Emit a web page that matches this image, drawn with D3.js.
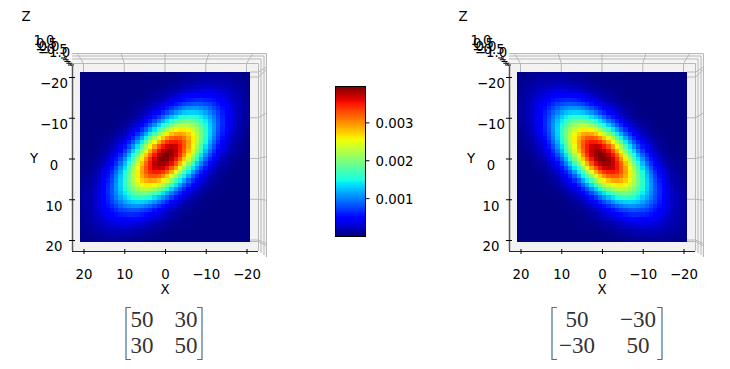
<!DOCTYPE html>
<html>
<head>
<meta charset="utf-8">
<script src="https://cdn.jsdelivr.net/npm/d3@7"></script>
<style>
  html, body { margin: 0; padding: 0; background: #fff; }
  svg { display: block; }
  text { font-family: "DejaVu Sans", sans-serif; font-size: 13.3px; fill: #000; }
  .mat { font-family: "Liberation Serif", serif; font-size: 23px; fill: #333; text-anchor: middle; dominant-baseline: central; }
</style>
</head>
<body>
<svg id="chart" width="730" height="369"></svg>
<script>
// density, in units of 1e-5, top half of the image
// (the lower half is the same picture turned by 180 degrees)
const densityTop = [
  [0,0,0,0,0,0,0,0,0,0,0,0,0,0,0,0,0,0,1,1,1,2,2,3,4,5,6,7,8,8,9,9,9,8,8,7,6,5,4,3],
  [0,0,0,0,0,0,0,0,0,0,0,0,0,0,0,0,0,1,1,1,2,3,4,5,7,8,9,11,12,13,13,13,13,12,11,10,8,7,6,4],
  [0,0,0,0,0,0,0,0,0,0,0,0,0,0,0,1,1,1,2,3,4,5,7,9,11,13,15,16,18,18,19,18,17,16,15,13,11,9,7,5],
  [0,0,0,0,0,0,0,0,0,0,0,0,0,0,1,1,2,2,3,5,6,9,11,14,17,19,22,24,25,26,26,25,24,21,19,16,13,11,8,6],
  [0,0,0,0,0,0,0,0,0,0,0,0,0,1,1,2,3,4,6,8,11,14,17,21,25,29,32,34,36,36,35,33,31,27,24,20,16,13,10,7],
  [0,0,0,0,0,0,0,0,0,0,0,0,1,2,2,3,5,7,9,13,17,22,27,32,37,42,45,48,49,48,46,43,39,34,29,24,19,15,11,8],
  [0,0,0,0,0,0,0,0,0,0,0,1,2,3,3,5,8,11,15,20,26,33,40,46,53,58,62,64,64,62,59,54,48,41,34,27,21,16,12,8],
  [0,0,0,0,0,0,0,0,0,0,1,2,3,4,6,9,12,18,23,31,39,48,56,65,73,78,82,83,82,78,73,65,56,48,39,31,24,17,13,9],
  [0,0,0,0,0,0,0,0,0,1,2,3,4,6,10,14,20,26,35,45,56,67,79,89,97,103,106,106,102,96,87,76,65,54,43,33,25,18,13,9],
  [0,0,0,0,0,0,0,0,1,2,3,4,7,10,15,21,29,39,51,64,78,92,106,117,126,131,132,129,123,113,100,87,73,59,46,35,26,19,13,9],
  [0,0,0,0,0,0,0,1,2,3,4,7,11,16,23,31,43,57,72,89,106,123,138,150,158,161,160,154,143,129,113,96,78,62,48,36,26,18,13,8],
  [0,0,0,0,0,0,1,2,3,4,7,11,16,24,33,46,61,79,98,119,139,158,174,186,192,193,188,177,161,143,123,102,82,64,49,36,25,18,12,8],
  [0,0,0,0,0,1,2,3,4,7,11,16,24,34,47,64,84,105,130,154,177,197,213,223,227,223,213,197,177,154,129,106,83,64,48,34,24,16,11,7],
  [0,0,0,0,1,2,3,4,6,10,16,24,34,48,66,87,111,138,166,193,218,238,253,260,260,251,235,213,188,160,132,106,82,62,45,32,22,15,9,6],
  [0,0,0,1,1,2,3,6,10,15,23,33,47,66,88,114,143,174,205,235,260,280,291,294,288,273,251,223,193,161,131,103,78,58,42,29,19,13,8,5],
  [0,0,1,1,2,3,5,9,14,21,31,46,64,87,114,145,178,213,247,277,301,318,325,322,309,288,260,227,192,158,126,97,73,53,37,25,17,11,7,4],
  [0,0,1,2,3,5,8,12,20,29,43,61,84,111,143,178,216,253,287,317,339,350,351,342,322,294,260,223,186,150,117,89,65,46,32,21,14,9,5,3],
  [0,1,1,2,4,7,11,18,26,39,57,79,105,138,174,213,253,291,325,352,369,374,368,351,325,291,253,213,174,138,106,79,56,40,27,17,11,7,4,2],
  [1,1,2,3,6,9,15,23,35,51,72,98,130,166,205,247,287,325,356,378,388,387,374,350,318,280,238,197,158,123,92,67,48,33,22,14,9,5,3,2],
  [1,1,3,5,8,13,20,31,45,64,89,119,154,193,235,277,317,352,378,393,397,388,369,339,301,260,218,177,139,106,78,56,39,26,17,11,6,4,2,1]
];
const xTicks = [20, 10, 0, -10, -20];
const yTicks = [-20, -10, 0, 10, 20];
const zTicks = ["1.0", "0.5", "0.0", "\u22120.5", "\u22121.0"];
const colorbarTicks = [0.001, 0.002, 0.003];
const matrixLeft = [["50", "30"], ["30", "50"]];
const matrixRight = [["50", "\u221230"], ["\u221230", "50"]];

const densityLeft = densityTop.concat(densityTop.slice().reverse().map((r) => r.slice().reverse()));
const densityRight = densityLeft.map((r) => r.slice().reverse());

const svg = d3.select("#chart");
const vmax = 396;

// matplotlib jet
const jetR = d3.scaleLinear().domain([0, 0.35, 0.66, 0.89, 1]).range([0, 0, 255, 255, 127.5]).clamp(true);
const jetG = d3.scaleLinear().domain([0, 0.125, 0.375, 0.64, 0.91, 1]).range([0, 0, 255, 255, 0, 0]).clamp(true);
const jetB = d3.scaleLinear().domain([0, 0.11, 0.34, 0.65, 1]).range([127.5, 255, 255, 0, 0]).clamp(true);
const jet = (t) => `rgb(${Math.round(jetR(t))},${Math.round(jetG(t))},${Math.round(jetB(t))})`;

function drawPanel(dx, rows) {
  const g = svg.append("g").attr("transform", `translate(${dx},0)`);

  // pane
  g.append("path")
    .attr("d", "M72,53.5L266.5,53.5L266.5,257L258,251L72,251Z")
    .attr("fill", "#f5f5f5");
  g.append("rect")
    .attr("x", 72).attr("y", 63).attr("width", 186).attr("height", 188)
    .attr("fill", "#f2f2f2");

  const grid = g.append("g")
    .attr("fill", "none")
    .attr("stroke", "#b8b8b8")
    .attr("stroke-width", 1);

  // stacked pane edges: each one a top line and a right line meeting at a corner
  const edgeTop = [53.5, 56, 59, 63.5];
  const edgeRight = [266.5, 264, 261, 258.5];
  const edgeBottom = [257, 255, 253, 251];
  edgeTop.forEach((top, i) => {
    grid.append("path").attr("d", `M72,${top}H${edgeRight[i]}V${edgeBottom[i]}`);
  });

  const x = d3.scaleLinear().domain([20, -20]).range([83.5, 246.5]);
  const y = d3.scaleLinear().domain([-20, 20]).range([77, 240]);

  // grid lines bending over the stacked panes
  xTicks.forEach((t) => {
    const px = x(t);
    const top = 165 + (px - 165) * 1.075;
    grid.append("path").attr("d", `M${px},72L${px},63.5L${top},53.5`);
  });
  yTicks.forEach((t) => {
    const py = y(t);
    const far = 158 + (py - 158) * 1.07 - 2;
    grid.append("path").attr("d", `M250,${py}L258.5,${py}L266.5,${far}`);
  });
  grid.append("path").attr("d", "M250,72L258.5,72L266.5,67");
  grid.append("path").attr("d", "M250,241.5L258.5,241.5L266.5,246");

  // surface seen from above
  const band = d3.scaleBand().domain(d3.range(40)).range([80, 250]);
  g.append("g")
    .attr("shape-rendering", "crispEdges")
    .selectAll("g")
    .data(rows)
    .join("g")
    .attr("transform", (d, i) => `translate(0,${band(i) - 8})`)
    .selectAll("rect")
    .data((d) => d)
    .join("rect")
    .attr("x", (d, j) => band(j))
    .attr("y", 0)
    .attr("width", band.bandwidth() + 0.25)
    .attr("height", band.bandwidth() + 0.25)
    .attr("fill", (d) => jet(d / vmax));

  // x axis
  const xAxis = g.append("g")
    .attr("transform", "translate(0,251)")
    .call(d3.axisBottom(x).tickValues(xTicks).tickSize(3));
  xAxis.select(".domain").attr("d", "M72,0.5L258,0.5").attr("stroke", "#222").attr("stroke-width", 1.2);
  xAxis.selectAll(".tick line").attr("y1", -2).attr("stroke", "#000");
  xAxis.selectAll(".tick text").attr("y", 19).attr("dy", "0.71em").style("font-size", "13.3px");
  g.append("text").attr("x", 165).attr("y", 294).attr("text-anchor", "middle").text("X");

  // y axis, its labels sit a little lower than the ticks
  const yAxis = g.append("g")
    .attr("transform", "translate(72,0)")
    .call(d3.axisLeft(y).tickValues(yTicks).tickSize(3));
  yAxis.select(".domain").attr("d", "M0.5,66L0.5,251").attr("stroke", "#555").attr("stroke-width", 1.5);
  yAxis.selectAll(".tick line").attr("x2", -3).attr("x1", 3).attr("stroke", "#000");
  yAxis.selectAll(".tick text")
    .attr("x", -18).attr("y", 6.5).attr("text-anchor", "middle")
    .style("font-size", "13.3px");
  g.append("text").attr("x", 34).attr("y", 163).attr("text-anchor", "middle").text("Y");

  // z axis collapsed to a point by the top view
  const zx = d3.scalePoint().domain(zTicks).range([44, 54]);
  const zy = d3.scalePoint().domain(zTicks).range([45, 57]);
  g.append("path").attr("d", "M72,66L64,57").attr("stroke", "#333").attr("fill", "none");
  const tx = d3.scalePoint().domain(zTicks).range([64, 71]);
  const ty = d3.scalePoint().domain(zTicks).range([58, 65]);
  g.append("g").selectAll("line").data(zTicks).join("line")
    .attr("x1", (d) => tx(d) - 3).attr("x2", (d) => tx(d) + 3)
    .attr("y1", (d) => ty(d)).attr("y2", (d) => ty(d))
    .attr("stroke", "#000");
  g.append("g").selectAll("text").data(zTicks).join("text")
    .attr("x", (d) => zx(d)).attr("y", (d) => zy(d))
    .attr("text-anchor", "middle")
    .text((d) => d);
  g.append("text").attr("x", 26).attr("y", 21).attr("text-anchor", "middle").text("Z");
}

function drawMatrix(values, left, right, colX) {
  const g = svg.append("g");
  const rowY = d3.scalePoint().domain([0, 1]).range([319, 345]);
  const stroke = "#41729a";
  g.append("path")
    .attr("d", `M${left + 5},307.5H${left}V359.5H${left + 5}`)
    .attr("fill", "none").attr("stroke", stroke).attr("stroke-width", 1.2);
  g.append("path")
    .attr("d", `M${right - 5},307.5H${right}V359.5H${right - 5}`)
    .attr("fill", "none").attr("stroke", stroke).attr("stroke-width", 1.2);
  values.forEach((row, i) => {
    row.forEach((v, j) => {
      g.append("text").attr("class", "mat")
        .attr("x", colX[j]).attr("y", rowY(i)).text(v);
    });
  });
}

function drawColorbar() {
  const g = svg.append("g");
  const scale = d3.scaleLinear().domain([0, 0.00396]).range([236, 86]);
  const levels = d3.range(256);
  const step = d3.scaleBand().domain(levels).range([236, 86]);
  g.append("g").attr("shape-rendering", "crispEdges")
    .selectAll("rect").data(levels).join("rect")
    .attr("x", 335.5).attr("width", 30)
    .attr("y", (d) => step(d) - 0.3)
    .attr("height", Math.abs(step.bandwidth()) + 0.6)
    .attr("fill", (d) => jet(d / 255));
  g.append("rect")
    .attr("x", 335.5).attr("y", 86.5).attr("width", 30).attr("height", 150)
    .attr("fill", "none").attr("stroke", "#000");
  const axis = g.append("g")
    .attr("transform", "translate(365.5,0)")
    .call(d3.axisRight(scale).tickValues(colorbarTicks).tickFormat(d3.format(".3f")).tickSize(4).tickPadding(6));
  axis.select(".domain").remove();
  axis.selectAll("text").attr("y", 1).style("font-size", "13.3px");
}

drawPanel(0, densityLeft);
drawPanel(437, densityRight);
drawColorbar();
drawMatrix(matrixLeft, 126, 202, [142, 186]);
drawMatrix(matrixRight, 552, 662, [577, 638]);
</script>
</body>
</html>
